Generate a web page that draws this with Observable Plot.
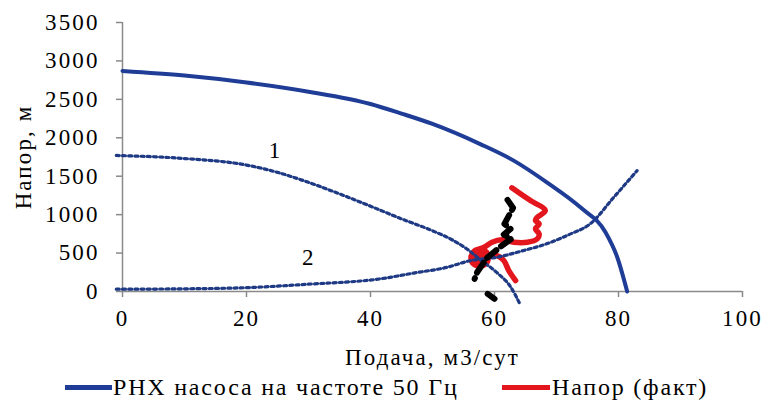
<!DOCTYPE html>
<html>
<head>
<meta charset="utf-8">
<script src="https://cdn.jsdelivr.net/npm/d3@7"></script>
<script src="https://cdn.jsdelivr.net/npm/@observablehq/plot@0.6"></script>
<style>
  body { margin: 0; background: #fff; }
  #chart { width: 765px; }
  .legend { position: relative; width: 765px; height: 35px; color: #000; }
  .legend .sw { position: absolute; height: 5px; top: 20px; }
  .legend .lb { position: absolute; top: 9px; white-space: nowrap; font-size: 24px; letter-spacing: 1.8px; }
</style>
</head>
<body>
<div id="chart"></div>
<script>
const SERIF = '"Liberation Serif", "Times New Roman", serif';

// Axis ticks
const xTicks = [0, 20, 40, 60, 80, 100];
const yTicks = [0, 500, 1000, 1500, 2000, 2500, 3000, 3500];

// РНХ насоса на частоте 50 Гц (подача, напор)
const pumpQ = [0, 10, 20, 30, 40, 45, 50, 57.7, 63.1, 68.5, 73.9, 77.9, 79.8, 81.4];
const pumpH = [2870, 2810, 2720, 2600, 2440, 2315, 2180, 1918, 1703, 1417, 1092, 771, 446, 0];

// Кривая 1 (пунктир, убывающая)
const curve1Q = [-1, 10, 20, 25, 30, 35, 40, 45, 50, 53, 55.6, 57.7, 60.4, 62.6, 64.2];
const curve1H = [1770, 1730, 1645, 1550, 1420, 1270, 1110, 945, 790, 680, 550, 415, 245, 60, -180];

// Кривая 2 (пунктир, возрастающая)
const curve2Q = [-1, 10, 20, 30, 41.6, 47, 52.4, 56, 60.4, 64.7, 68.4, 72, 75.5, 79.2, 83];
const curve2H = [30, 35, 50, 95, 165, 240, 316, 400, 446, 533, 620, 740, 884, 1222, 1573];

// Напор (факт)
const factQ = [62.8, 65.8, 68.2, 66.9, 66.6, 67.2, 66.6, 67.2, 66.9, 65.3, 63.1, 61.2, 59.6, 58.3,
  57.6, 56.7, 56.2, 56.6, 57.6, 58.6, 59.0, 58.6, 57.6, 56.9, 57.0, 57.6, 58.3, 58.0, 57.4, 57.6, 58.6, 59.5, 60.4, 61.5, 62.3, 63.4];
const factH = [1349, 1183, 1053, 966, 923, 880, 815, 750, 685, 641, 641, 672, 641, 576,
  555, 525, 442, 360, 330, 360, 442, 520, 495, 450, 410, 385, 442, 480, 440, 430, 480, 470, 468, 403, 273, 143];

// Второй ряд замеров (чёрный штрих); NaN разрывает линию
const measQ = [62.1, 63.0, 61.6, 62.6, 61.5, 62.7, 61.0, 58.8, 57.2, 56.8, NaN, 58.9, 60.0];
const measH = [1192, 1088, 880, 815, 741, 685, 585, 438, 251, 165, NaN, -30, -95];

// Подписи кривых
const curveLabels = ["1", "2"];
const labelQ = [24.7, 30.05];
const labelH = [1833, 446];

const zip = (xs, ys) => xs.map((x, i) => ({x, y: ys[i]}));
const pump = zip(pumpQ, pumpH);
const curve1 = zip(curve1Q, curve1H);
const curve2 = zip(curve2Q, curve2H);
const fact = zip(factQ, factH);
const meas = zip(measQ, measH);
const labels = curveLabels.map((t, i) => ({t, x: labelQ[i], y: labelH[i]}));

const blue = "#1f3d96";
const navy = "#1f3a84";
const red = "#e3161e";
const axisGray = "#8a8a8a";

const chart = Plot.plot({
  width: 765,
  height: 365,
  marginLeft: 122,
  marginRight: 23,
  marginTop: 22,
  marginBottom: 74,
  style: {fontFamily: SERIF, fontSize: "23px", color: "#000", background: "#fff", overflow: "visible"},
  x: {domain: [0, 100]},
  y: {domain: [0, 3500]},
  marks: [
    Plot.ruleY([0], {stroke: axisGray, strokeWidth: 1.5}),
    Plot.ruleX([0], {stroke: axisGray, strokeWidth: 1.5}),
    Plot.axisX(xTicks, {tickSize: 6, tickPadding: 12, stroke: axisGray, strokeWidth: 1.5, fill: "#000", fontSize: 23,
      tickFormat: d => String(d), label: "Подача, м3/сут", labelAnchor: "center", labelOffset: 73, labelArrow: "none"}),
    Plot.axisY(yTicks, {tickSize: 6, tickPadding: 17, stroke: axisGray, strokeWidth: 1.5, fill: "#000", fontSize: 23,
      tickFormat: d => String(d), label: "Напор, м", labelAnchor: "center", labelOffset: 108, labelArrow: "none"}),
    Plot.line(fact, {x: "x", y: "y", stroke: red, strokeWidth: 5.5, strokeLinejoin: "round", strokeLinecap: "round", curve: "catmull-rom"}),
    Plot.line(curve1, {x: "x", y: "y", stroke: navy, strokeWidth: 3.2, strokeDasharray: "3,3.2", curve: "monotone-x"}),
    Plot.line(curve2, {x: "x", y: "y", stroke: navy, strokeWidth: 3.2, strokeDasharray: "3,3.2", curve: "monotone-x"}),
    Plot.line(meas, {x: "x", y: "y", stroke: "#000", strokeWidth: 6, strokeDasharray: "12,6", curve: "linear"}),
    Plot.line(pump, {x: "x", y: "y", stroke: blue, strokeWidth: 4, curve: "monotone-x"}),
    Plot.text(labels, {x: "x", y: "y", text: "t", fontSize: 23, fill: "#000", textAnchor: "middle", lineAnchor: "middle"})
  ]
});

// Serif typeface and widened tracking for every label in the figure
d3.select(chart).selectAll("text")
  .attr("font-family", null)
  .style("font-family", SERIF)
  .style("letter-spacing", "2.1px");

const root = document.getElementById("chart");
root.appendChild(chart);

// Легенда
const legend = document.createElement("div");
legend.className = "legend";
legend.innerHTML = `
  <span class="sw" style="left:65px;width:47px;background:${blue}"></span>
  <span class="lb" style="left:113px">РНХ насоса на частоте 50 Гц</span>
  <span class="sw" style="left:502px;width:48px;background:${red}"></span>
  <span class="lb" style="left:552px">Напор (факт)</span>`;
legend.querySelectorAll(".lb").forEach(el => { el.style.fontFamily = SERIF; });
root.appendChild(legend);
</script>
</body>
</html>
